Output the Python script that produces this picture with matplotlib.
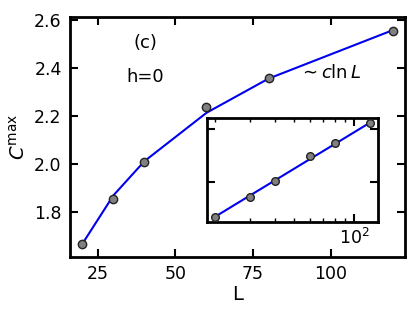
import numpy as np
import matplotlib
matplotlib.use("Agg")
import matplotlib.pyplot as plt

# data
L = [20, 30, 40, 60, 80, 120]
C_max = [1.67, 1.855, 2.008, 2.24, 2.36, 2.553]
# c ln L fit evaluated at the same sizes
C_fit = [1.670, 1.871, 2.013, 2.214, 2.356, 2.557]

plt.rcParams['font.family'] = ['DejaVu Sans']
plt.rcParams['font.size'] = 11

fig = plt.figure(figsize=(4.14, 3.15), dpi=100)
ax = fig.add_axes([70 / 414, 1 - 257 / 315, 335 / 414, 240 / 315])

ax.plot(L, C_fit, color='#0000ee', lw=1.5, zorder=2)
ax.plot(L, C_max, 'o', ms=6, mfc='#808080', mec='#222222', mew=1.0, zorder=3)

ax.set_xlim(16, 124)
ax.set_ylim(1.615, 2.612)
ax.set_xticks([25, 50, 75, 100])
ax.set_yticks([1.8, 2.0, 2.2, 2.4, 2.6])
ax.tick_params(direction='in', top=True, right=True, length=6, width=1.5,
               labelsize=12.5, pad=6)
for s in ax.spines.values():
    s.set_linewidth(2)
ax.set_xlabel('L', fontsize=14, labelpad=1)
ax.set_ylabel(r'$C^{\mathrm{max}}$', fontsize=14, labelpad=4)

ax.text(0.225, 0.89, '(c)', transform=ax.transAxes, ha='center', va='center', fontsize=13)
ax.text(0.225, 0.75, 'h=0', transform=ax.transAxes, ha='center', va='center', fontsize=13)
ax.text(0.778, 0.765, r'$\sim c\ln L$', transform=ax.transAxes, ha='center', va='center', fontsize=13)

# inset, log x
ins = fig.add_axes([207 / 414, 1 - 222 / 315, 171 / 414, 104 / 315])
ins.plot(L, C_fit, color='#0000ee', lw=1.5, zorder=2)
ins.plot(L, C_max, 'o', ms=5.5, mfc='#808080', mec='#222222', mew=1.0, zorder=3)
ins.set_xscale('log')
ins.set_xlim(18.2, 131.5)
ins.set_ylim(1.62, 2.60)
ins.set_yticks([2.0, 2.5])
ins.set_yticklabels([])
ins.tick_params(which='major', direction='in', top=True, right=True, length=6, width=1.5,
                labelsize=12.5, pad=4)
ins.tick_params(which='minor', direction='in', top=True, right=True, length=3, width=1.0,
                labelbottom=False)
for s in ins.spines.values():
    s.set_linewidth(2)

fig.savefig('out.png', dpi=100)
